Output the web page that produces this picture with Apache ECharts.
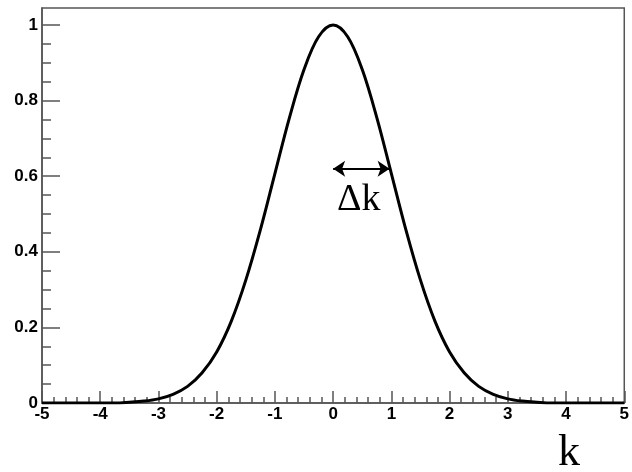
<!DOCTYPE html>
<html>
<head>
<meta charset="utf-8">
<script src="https://cdn.jsdelivr.net/npm/echarts@6/dist/echarts.min.js"></script>
<style>
  html, body { margin: 0; padding: 0; background: #fff; }
  #chart { width: 632px; height: 472px; }
</style>
</head>
<body>
<div id="chart"></div>
<script>
// k values and the curve
var kValues = [-5, -4.75, -4.5, -4.25, -4, -3.75, -3.5, -3.25, -3, -2.75, -2.5, -2.25, -2, -1.75, -1.5, -1.25, -1, -0.75, -0.5, -0.25,
  0, 0.25, 0.5, 0.75, 1, 1.25, 1.5, 1.75, 2, 2.25, 2.5, 2.75, 3, 3.25, 3.5, 3.75, 4, 4.25, 4.5, 4.75, 5];
var curve = [0, 0, 0, 0, 0, 0, 0.002, 0.005, 0.011, 0.023, 0.044, 0.08, 0.135, 0.216, 0.325, 0.458, 0.607, 0.755, 0.882, 0.969,
  1.0, 0.969, 0.882, 0.755, 0.607, 0.458, 0.325, 0.216, 0.135, 0.08, 0.044, 0.023, 0.011, 0.005, 0.002, 0, 0, 0, 0, 0, 0];

// y ticks (the frame goes a bit above 1)
var yMajor = [0, 0.2, 0.4, 0.6, 0.8, 1];
var yMinor = [0.05, 0.1, 0.15, 0.25, 0.3, 0.35, 0.45, 0.5, 0.55, 0.65, 0.7, 0.75, 0.85, 0.9, 0.95];

// Δk arrow, from k=0 to about k=1 at height ~0.62
var arrowFrom = [0, 0.62];
var arrowTo = [0.97, 0.62];

var myChart = echarts.init(document.getElementById('chart'));

var labelFont = {
  fontFamily: 'Liberation Sans, Arial, sans-serif',
  fontWeight: 'bold',
  fontSize: 17,
  color: '#000'
};

var option = {
  animation: false,
  grid: {
    left: 42,
    right: 5,
    top: 8,
    bottom: 69,
    show: true,
    borderColor: '#555',
    borderWidth: 1.5
  },
  xAxis: {
    type: 'value',
    min: -5,
    max: 5,
    interval: 1,
    axisLine: { onZero: false, lineStyle: { color: '#555', width: 1.5 } },
    axisTick: { inside: true, length: 12, lineStyle: { color: '#555', width: 1.5 } },
    minorTick: { show: true, splitNumber: 5, length: 6, lineStyle: { color: '#555', width: 1.5 } },
    splitLine: { show: false },
    axisLabel: Object.assign({ margin: 3 }, labelFont)
  },
  yAxis: [{
    type: 'value',
    min: 0,
    max: 1.045,
    position: 'left',
    axisLine: { show: true, onZero: false, lineStyle: { color: '#555', width: 1.5 } },
    axisTick: { inside: true, length: 18, customValues: yMajor, lineStyle: { color: '#555', width: 1.5 } },
    splitLine: { show: false },
    axisLabel: Object.assign({ margin: 4, customValues: yMajor }, labelFont)
  }, {
    type: 'value',
    min: 0,
    max: 1.045,
    position: 'left',
    axisLine: { show: false, onZero: false },
    axisTick: { inside: true, length: 9, customValues: yMinor, lineStyle: { color: '#555', width: 1.5 } },
    splitLine: { show: false },
    axisLabel: { show: false }
  }],
  series: [{
    type: 'line',
    data: kValues.map(function (k, i) { return [k, curve[i]]; }),
    smooth: 0.35,
    symbol: 'none',
    lineStyle: { color: '#000', width: 3 },
    markLine: {
      silent: true,
      symbol: ['arrow', 'arrow'],
      symbolSize: [12, 12],
      label: { show: false },
      lineStyle: { color: '#000', width: 2, type: 'solid' },
      data: [[{ coord: arrowFrom }, { coord: arrowTo }]]
    }
  }],
  graphic: [{
    type: 'text',
    left: 337,
    top: 181,
    style: { text: 'Δk', font: '38px "Liberation Serif", "Times New Roman", serif', fill: '#000' }
  }, {
    type: 'text',
    left: 558,
    top: 431,
    style: { text: 'k', font: '44px "Liberation Serif", "Times New Roman", serif', fill: '#000' }
  }]
};

myChart.setOption(option);
window.addEventListener('resize', function () {
  myChart.resize();
});
</script>
</body>
</html>
